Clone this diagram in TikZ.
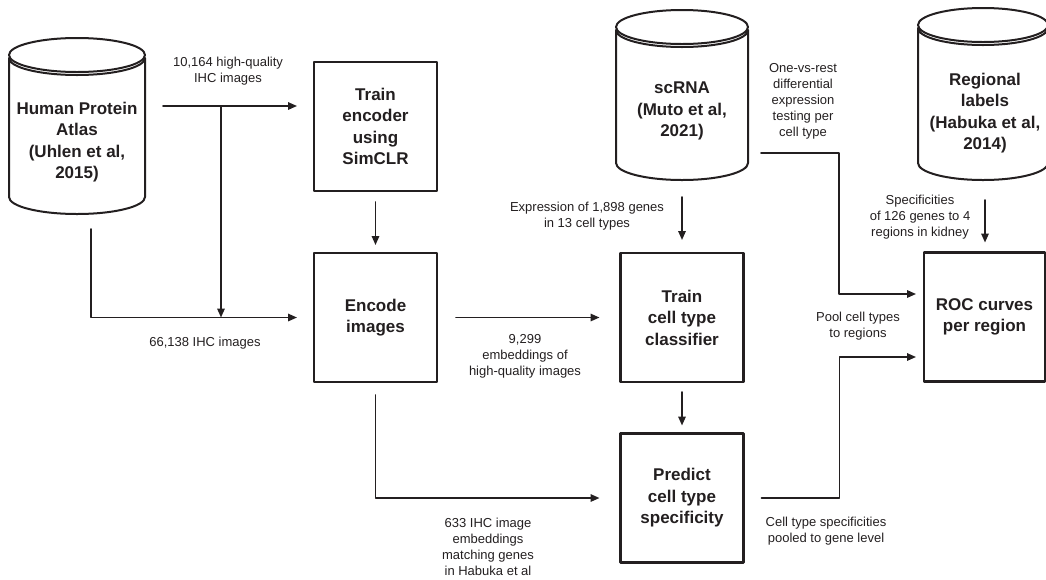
\documentclass[tikz,border=0pt]{standalone}
\usepackage{fontspec}
\setmainfont{Liberation Sans}
\usetikzlibrary{arrows.meta,calc}
\definecolor{ink}{HTML}{231F20}
\newcommand\drum[5]{%
  \draw[drumline] ({#1-#4},{#2+#5+3}) -- ({#1-#4},{#3-#5})
    arc[start angle=180,end angle=360,x radius=#4pt,y radius=#5pt]
    -- ({#1+#4},{#2+#5+3})
    arc[start angle=0,end angle=-180,x radius=#4pt,y radius=#5pt];
  \draw[drumline] (#1,{#2+#5}) ellipse[x radius=#4pt,y radius=#5pt];}
\begin{document}
\begin{tikzpicture}[x=1pt,y=-1pt,line join=round,line cap=round,
  stage/.style={draw=ink,line width=2.4pt,minimum width=123pt,minimum height=129pt,inner sep=0pt,outer sep=0pt,align=center,text=ink,font=\bfseries\fontsize{17}{21.5}\selectfont},
  drumtext/.style={align=center,text=ink,inner sep=0pt,font=\bfseries\fontsize{17}{21.5}\selectfont},
  drumline/.style={draw=ink,line width=2pt},
  note/.style={align=center,text=ink,inner sep=0pt,font=\fontsize{13}{16}\selectfont},
  flow/.style={draw=ink,line width=1.6pt,-{Triangle[length=9pt,width=7.5pt]}}]
	\useasboundingbox (0,0) rectangle (1046,579);
	\drum{77}{38}{214}{68}{17}
	\drum{682}{10}{180}{66}{17}
	\drum{983}{8}{180}{65}{17}
	\node[drumtext] (hpa) at (77,142) {Human Protein\\Atlas\\(Uhlen et al,\\2015)};
	\node[drumtext] (scrna) at (682,111) {scRNA\\(Muto et al,\\2021)};
	\node[drumtext] (reg) at (985,113) {Regional\\labels\\(Habuka et al,\\2014)};
	\node[stage] (enc) at (375.5,126.5) {Train\\encoder\\using\\SimCLR};
	\node[stage] (emb) at (375.5,317.5) {Encode\\images};
	\node[stage] (clf) at (682,317.5) {Train\\cell type\\classifier};
	\node[stage] (pred) at (682,498) {Predict\\cell type\\specificity};
	\node[stage,minimum width=121pt] (roc) at (984.5,317) {ROC curves\\per region};
	\coordinate (hq) at ($(hpa)+(86,-36)$);
	\coordinate (fork) at ($(hq)+(58,0)$);
	\draw[flow,shorten >=17pt] (hq) -- (hq -| enc.west);
	\draw[flow] (fork) -- (fork |- emb.west);
	\draw[flow,shorten >=17pt] ($(hpa)+(14,87)$) |- (emb.west);
	\draw[flow,shorten <=11pt,shorten >=8pt] (enc.south) -- (emb.north);
	\draw[flow,shorten <=19pt,shorten >=21pt] (emb.east) -- (clf.west);
	\draw[flow,shorten >=13pt] ($(scrna)+(0,86)$) -- (clf.north);
	\draw[flow,shorten <=10pt,shorten >=8pt] (clf.south) -- (pred.north);
	\draw[flow,shorten <=13pt,shorten >=21pt] (emb.south) |- (pred.west);
	\draw[flow,shorten >=8pt] ($(scrna)+(79,42)$) -- ++(78,0) |- ([yshift=23pt]roc.west);
	\draw[flow,shorten <=18pt,shorten >=8pt] (pred.east) -- ++(96,0) |- ([yshift=-40pt]roc.west);
	\draw[flow,shorten >=10pt] ($(reg)+(0,87)$) -- (reg |- roc.north);
	\node[note] (n1) at (228,71) {10,164 high-quality\\IHC images};
	\node[note] (n2) at (205,343) {66,138 IHC images};
	\node[note] (n3) at (587,216) {Expression of 1,898 genes\\in 13 cell types};
	\node[note] (n4) at (525,356) {9,299\\embeddings of\\high-quality images};
	\node[note] (n5) at (488,547) {633 IHC image\\embeddings\\matching genes\\in Habuka et al};
	\node[note] (n6) at (826,531) {Cell type specificities\\pooled to gene level};
	\node[note] (n7) at (858,326) {Pool cell types\\to regions};
	\node[note] (n8) at (803,101) {One-vs-rest\\differential\\expression\\testing per\\cell type};
	\node[note] (n9) at (920,217) {Specificities\\of 126 genes to 4\\regions in kidney};
\end{tikzpicture}
\end{document}
